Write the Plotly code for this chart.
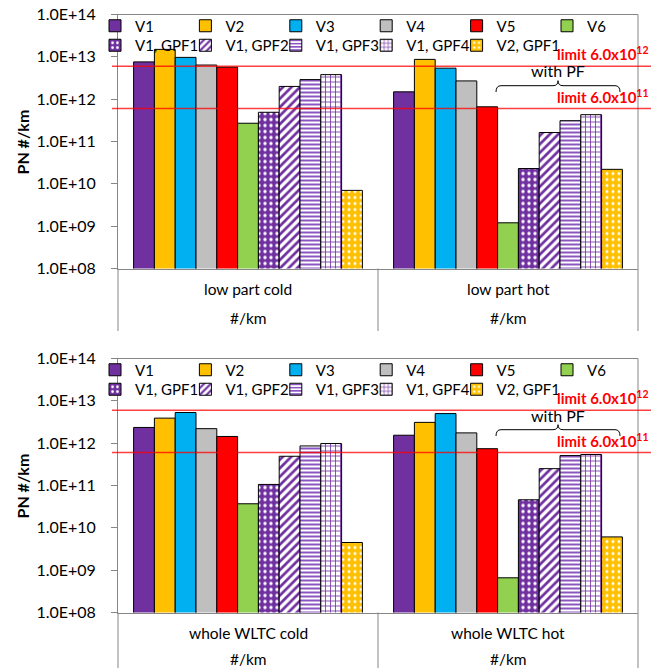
import math
import plotly.graph_objects as go
from plotly.subplots import make_subplots

# ---- data -------------------------------------------------------------
series = ["V1", "V2", "V3", "V4", "V5", "V6",
          "V1, GPF1", "V1, GPF2", "V1, GPF3", "V1, GPF4", "V2, GPF1"]

cats_top = ["low part cold", "low part hot"]
cats_bot = ["whole WLTC cold", "whole WLTC hot"]
unit_label = "#/km"

low_cold = [7.6e12, 1.5e13, 9.7e12, 6.4e12, 5.7e12, 2.7e11,
            4.9e11, 2.0e12, 2.9e12, 3.8e12, 7.0e9]
low_hot = [1.49e12, 8.7e12, 5.4e12, 2.7e12, 6.6e11, 1.2e9,
           2.3e10, 1.63e11, 3.1e11, 4.3e11, 2.2e10]
wltc_cold = [2.35e12, 3.9e12, 5.3e12, 2.2e12, 1.44e12, 3.7e10,
             1.06e11, 4.9e11, 8.6e11, 9.8e11, 4.5e9]
wltc_hot = [1.54e12, 3.1e12, 5.0e12, 1.75e12, 7.4e11, 6.6e8,
            4.6e10, 2.5e11, 5.1e11, 5.4e11, 6.1e9]

limits = [6.0e12, 6.0e11]
limit_labels = ["limit 6.0x10<sup>12</sup>", "limit 6.0x10<sup>11</sup>"]

tick_vals = [1e8, 1e9, 1e10, 1e11, 1e12, 1e13, 1e14]
tick_text = ["1.0E+08", "1.0E+09", "1.0E+10", "1.0E+11",
             "1.0E+12", "1.0E+13", "1.0E+14"]

# ---- styles -----------------------------------------------------------
PURPLE = "#7030A0"
GRAY = "#868686"
styles = {
    "V1": dict(color=PURPLE),
    "V2": dict(color="#FFC000"),
    "V3": dict(color="#00B0F0"),
    "V4": dict(color="#BFBFBF"),
    "V5": dict(color="#FF0000"),
    "V6": dict(color="#92D050"),
    "V1, GPF1": dict(color=PURPLE, pattern=dict(shape=".", bgcolor=PURPLE, fgcolor="white",
                                                size=6, solidity=0.25, fillmode="replace")),
    "V1, GPF2": dict(color="white", pattern=dict(shape="/", bgcolor="white", fgcolor=PURPLE,
                                                 size=6, solidity=0.45, fillmode="replace")),
    "V1, GPF3": dict(color="white", pattern=dict(shape="-", bgcolor="white", fgcolor="#8A55C0",
                                                 size=4, solidity=0.5, fillmode="replace")),
    "V1, GPF4": dict(color="white", pattern=dict(shape="+", bgcolor="white", fgcolor=PURPLE,
                                                 size=5, solidity=0.3, fillmode="replace")),
    "V2, GPF1": dict(color="#FFC000", pattern=dict(shape=".", bgcolor="#FFC000", fgcolor="white",
                                                   size=6, solidity=0.2, fillmode="replace")),
}

FONT = "Lato"
FS = 16
W, H = 665, 668


def px(x):
    return x / W


def py(y):
    return 1 - y / H


fig = make_subplots(rows=2, cols=1, vertical_spacing=0.1)

panels = [
    (1, cats_top, [low_cold, low_hot]),
    (2, cats_bot, [wltc_cold, wltc_hot]),
]
# plot-area geometry (pixels)
x_left, x_right = 118, 638
panel_px = [(14.5, 268.5), (358.5, 612.5)]

# legend layout: 6 columns, 2 rows, one small legend per entry
leg_x0, leg_dx = 123, 90.4
legend_layouts = {}
for k, (row, cats, groups) in enumerate(panels):
    top = panel_px[k][0]
    for i, name in enumerate(series):
        st = styles[name]
        marker = dict(color=st["color"], line=dict(color="#000000", width=1))
        if "pattern" in st:
            marker["pattern"] = st["pattern"]
        leg_id = "legend" if (k == 0 and i == 0) else f"legend{k * 11 + i + 1}"
        fig.add_trace(go.Bar(
            x=[0, 1], y=[groups[0][i], groups[1][i]], name=name,
            marker=marker, legend=leg_id, showlegend=True,
        ), row=row, col=1)
        r, c = (0, i) if i < 6 else (1, i - 6)
        sym_x = leg_x0 + leg_dx * c
        row_y = top + (11.5 if r == 0 else 31)
        legend_layouts[leg_id] = dict(
            x=px(sym_x - 20), y=py(row_y), xanchor="left", yanchor="middle",
            orientation="v", bgcolor="rgba(0,0,0,0)", borderwidth=0,
            font=dict(family=FONT, size=15, color="#000"), itemwidth=30,
            indentation=-8,
        )

fig.update_layout(
    xaxis=dict(domain=[px(x_left), px(x_right)]),
    xaxis2=dict(domain=[px(x_left), px(x_right)]),
    yaxis=dict(domain=[py(panel_px[0][1]), py(panel_px[0][0])]),
    yaxis2=dict(domain=[py(panel_px[1][1]), py(panel_px[1][0])]),
)

for ax in ("xaxis", "xaxis2"):
    fig.layout[ax].update(range=[-0.5, 1.5], showticklabels=False, showgrid=False,
                          zeroline=False, showline=True, linecolor=GRAY,
                          linewidth=1, ticks="", automargin=False)
for ax in ("yaxis", "yaxis2"):
    fig.layout[ax].update(type="log", range=[8, 14], tickvals=tick_vals, ticktext=tick_text,
                          showgrid=False, zeroline=False, showline=True,
                          linecolor=GRAY, linewidth=1, ticks="outside",
                          ticklen=6, tickcolor=GRAY, ticklabelstandoff=12,
                          automargin=False,
                          tickfont=dict(family=FONT, size=FS, color="#000000"))

annotations = []
shapes = []
for k, (row, cats, groups) in enumerate(panels):
    top, bot = panel_px[k]
    xref = "x" if k == 0 else "x2"
    yref = "y" if k == 0 else "y2"
    # category labels (two levels)
    unit_y = bot + 49 if k == 0 else bot + 46
    for j, c in enumerate(cats):
        annotations.append(dict(x=j, xref=xref, y=py(bot + 20.5), yref="paper", text=c,
                                xanchor="center", yanchor="middle", showarrow=False,
                                font=dict(family=FONT, size=15.5, color="#000")))
        annotations.append(dict(x=j, xref=xref, y=py(unit_y), yref="paper", text=unit_label,
                                xanchor="center", yanchor="middle", showarrow=False,
                                font=dict(family=FONT, size=15.5, color="#000")))
    # category dividers
    line_end = 331 if k == 0 else 668
    for xd in (0, 0.5, 1):
        shapes.append(dict(type="line", xref=xref + " domain", x0=xd, x1=xd,
                           yref="paper", y0=py(bot), y1=py(line_end),
                           line=dict(color=GRAY, width=1)))
    # frame: right and top edges of the plot area
    shapes.append(dict(type="line", xref=xref + " domain", x0=1, x1=1,
                       yref="paper", y0=py(bot), y1=py(top),
                       line=dict(color=GRAY, width=1)))
    shapes.append(dict(type="line", xref="paper", x0=px(113), x1=px(x_right),
                       yref="paper", y0=py(top), y1=py(top),
                       line=dict(color=GRAY, width=1)))
    # y-axis title
    annotations.append(dict(x=px(22), xref="paper", y=py((top + bot) / 2), yref="paper",
                            xanchor="center", yanchor="middle",
                            text="<b>PN #/km</b>", textangle=-90, showarrow=False,
                            font=dict(family=FONT, size=FS, color="#000")))
    # limit lines with labels
    for lim, lab in zip(limits, limit_labels):
        shapes.append(dict(type="line", xref="paper", x0=px(112), x1=px(651),
                           yref=yref, y0=lim, y1=lim,
                           line=dict(color="rgba(255,0,0,0.75)", width=1.5)))
        annotations.append(dict(x=px(651), xref="paper", xanchor="right",
                                y=math.log10(lim), yref=yref, yanchor="bottom", yshift=1,
                                text="<b>" + lab + "</b>", showarrow=False,
                                font=dict(family=FONT, size=15, color="#FF0000")))
    # "with PF" brace
    off = 0 if k == 0 else 344
    yl, ye, yt = py(85.7 + off), py(92 + off), py(80.7 + off)
    x0, x1, xc, r = px(496), px(620), px(558), px(5)
    path = (f"M {x0},{ye} Q {x0},{yl} {x0 + r},{yl} L {xc - r},{yl} "
            f"Q {xc},{yl} {xc},{yt} Q {xc},{yl} {xc + r},{yl} "
            f"L {x1 - r},{yl} Q {x1},{yl} {x1},{ye}")
    shapes.append(dict(type="path", xref="paper", yref="paper", path=path,
                       line=dict(color="#000000", width=1)))
    annotations.append(dict(x=xc, xref="paper", y=py(71 + off), yref="paper",
                            xanchor="center", yanchor="middle",
                            text="with PF", showarrow=False,
                            font=dict(family=FONT, size=FS, color="#000")))

fig.update_layout(**legend_layouts)
fig.update_layout(
    template="none",
    annotations=annotations,
    shapes=shapes,
    barmode="group",
    bargap=0.12,
    bargroupgap=0,
    width=W, height=H,
    margin=dict(l=0, r=0, t=0, b=0),
    paper_bgcolor="white",
    plot_bgcolor="white",
    font=dict(family=FONT, size=FS, color="#000"),
)

fig.write_html("out.html")
